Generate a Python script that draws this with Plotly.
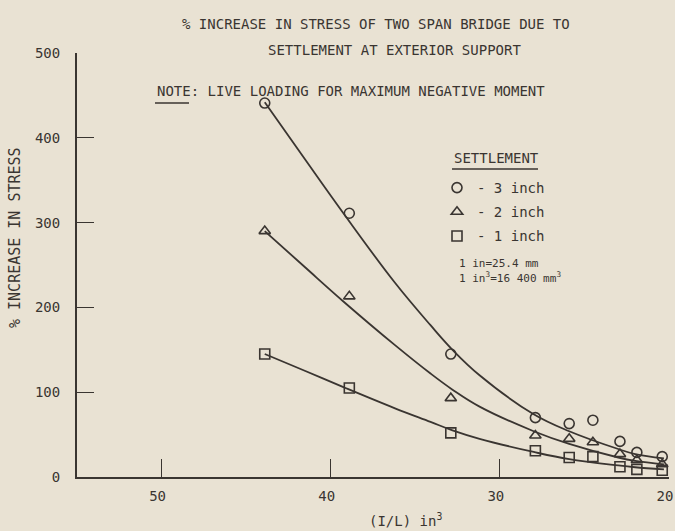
import plotly.graph_objects as go

# ---- data ----
x_points = [43.9, 38.9, 32.9, 27.9, 25.9, 24.5, 22.9, 21.9, 20.4]
pts_3in = [441, 311, 145, 70, 63, 67, 42, 29, 24]
pts_2in = [290, 213, 93, 49, 45, 41, 27, 20, 15]
pts_1in = [145, 105, 52, 31, 23, 24, 12, 9, 8]

curve_x = [43.9, 41.5, 39.25, 36.2, 34.1, 32.8, 31.2, 28.0, 25.9, 23.0, 22.0, 20.3]
curve_3in = [442, 374, 311, 229, 179, 150, 120, 74, 54, 33, 27, 22]
curve_2in = [290, 247, 207, 155.5, 122, 103, 83, 54, 39, 23, 19, 15]
curve_1in = [145, 125, 106, 81, 65, 55, 45, 29.5, 21, 13.6, 11.5, 9]

x_ticks = [50, 40, 30, 20]
y_ticks = [0, 100, 200, 300, 400, 500]

series_names = ["- 3 inch", "- 2 inch", "- 1 inch"]
symbols = ["circle-open", "triangle-up-open", "square-open"]

BG = "#e9e2d3"
INK = "#3a3531"
FONT = "DejaVu Sans Mono, Liberation Mono, monospace"

fig = go.Figure()

for cy in (curve_3in, curve_2in, curve_1in):
    fig.add_trace(go.Scatter(x=curve_x, y=cy, mode="lines",
                             line=dict(color=INK, width=1.8, shape="spline", smoothing=1.1),
                             showlegend=False, hoverinfo="skip"))

for i, (py, name, sym) in enumerate(zip((pts_3in, pts_2in, pts_1in), series_names, symbols)):
    fig.add_trace(go.Scatter(x=x_points, y=py, mode="markers", name=name,
                             legendgroup=f"g{i}",
                             marker=dict(symbol=sym, size=10, color=INK,
                                         line=dict(color=INK, width=1.6))))

fig.update_layout(
    width=675, height=531,
    margin=dict(l=77, r=6, t=53, b=54),
    paper_bgcolor=BG, plot_bgcolor=BG,
    font=dict(family=FONT, color=INK, size=14),
    xaxis=dict(range=[55, 20], tickvals=x_ticks, ticks="inside", ticklen=18,
               tickwidth=1.2, tickcolor=INK, showline=True, linecolor=INK,
               linewidth=2, showgrid=False, zeroline=False, automargin=False,
               ticklabelstandoff=5, ticklabelshift=4, ticklabeloverflow="allow",
               tickfont=dict(size=14)),
    yaxis=dict(range=[0, 500], tickvals=y_ticks, ticks="inside", ticklen=17,
               tickwidth=1.2, tickcolor=INK, showline=True, linecolor=INK,
               linewidth=2, showgrid=False, zeroline=False, automargin=False,
               ticklabelstandoff=12, tickfont=dict(size=14)),
    showlegend=True,
    legend=dict(x=(437 - 77) / 592, y=(477 - 172) / 424, xanchor="left", yanchor="top",
                bgcolor="rgba(0,0,0,0)", font=dict(size=14, color=INK),
                tracegroupgap=3, itemwidth=30),
)

def px_x(px):
    return (px - 77) / 592

def px_y(py):
    return (477 - py) / 424

fig.add_annotation(text="% INCREASE IN STRESS OF TWO SPAN BRIDGE DUE TO",
                   x=px_x(376), y=px_y(24), xref="paper", yref="paper",
                   xanchor="center", yanchor="middle", showarrow=False,
                   font=dict(size=14, color=INK))
fig.add_annotation(text="SETTLEMENT AT EXTERIOR SUPPORT",
                   x=px_x(394), y=px_y(50), xref="paper", yref="paper",
                   xanchor="center", yanchor="middle", showarrow=False,
                   font=dict(size=14, color=INK))
fig.add_annotation(text="NOTE: LIVE LOADING FOR MAXIMUM NEGATIVE MOMENT",
                   x=px_x(155), y=px_y(91), xref="paper", yref="paper",
                   xanchor="left", yanchor="middle", showarrow=False,
                   font=dict(size=14, color=INK))
fig.add_annotation(text="SETTLEMENT", x=px_x(452), y=px_y(158), xref="paper", yref="paper",
                   xanchor="left", yanchor="middle", showarrow=False,
                   font=dict(size=14, color=INK))
fig.add_annotation(text="1 in=25.4 mm", x=px_x(457), y=px_y(263), xref="paper", yref="paper",
                   xanchor="left", yanchor="middle", showarrow=False,
                   font=dict(size=11, color=INK))
fig.add_annotation(text="1 in<sup>3</sup>=16 400 mm<sup>3</sup>", x=px_x(457), y=px_y(277),
                   xref="paper", yref="paper", xanchor="left", yanchor="middle",
                   showarrow=False, font=dict(size=11, color=INK))
fig.add_annotation(text="% INCREASE IN STRESS", x=px_x(15), y=px_y(238), xref="paper",
                   yref="paper", xanchor="center", yanchor="middle", textangle=-90,
                   showarrow=False, font=dict(size=15, color=INK))
fig.add_annotation(text="(I/L) in<sup>3</sup>", x=px_x(405), y=px_y(520), xref="paper",
                   yref="paper", xanchor="center", yanchor="middle", showarrow=False,
                   font=dict(size=14, color=INK))

# underlines
fig.add_shape(type="line", xref="paper", yref="paper", x0=px_x(155), x1=px_x(189),
              y0=px_y(103), y1=px_y(103), line=dict(color=INK, width=1.5))
fig.add_shape(type="line", xref="paper", yref="paper", x0=px_x(452), x1=px_x(538),
              y0=px_y(169), y1=px_y(169), line=dict(color=INK, width=1.5))

fig.write_html("out.html")
